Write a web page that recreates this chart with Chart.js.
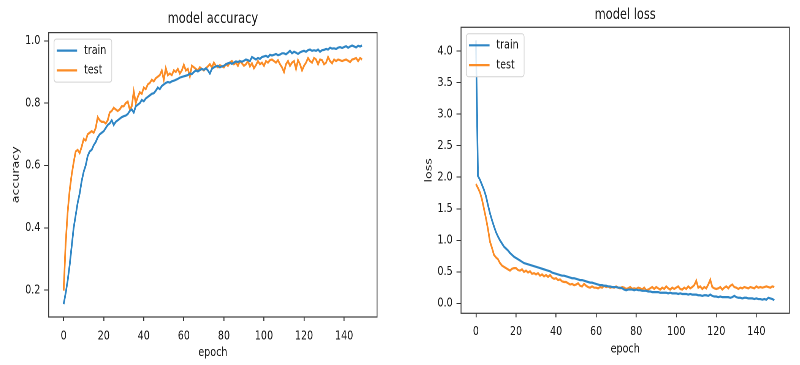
<!DOCTYPE html>
<html>
<head>
<meta charset="utf-8">
<script src="https://cdn.jsdelivr.net/npm/chart.js@4.4.1/dist/chart.umd.min.js"></script>
<style>
  body { margin: 0; background: #fff; width: 800px; height: 365px; overflow: hidden; position: relative; }
  .panel { position: absolute; top: 0; width: 526px; height: 365px; transform: scaleX(0.76); transform-origin: 0 0; }
</style>
</head>
<body>
<div class="panel" style="left:0"><canvas id="acc" width="526" height="365"></canvas></div>
<div class="panel" style="left:400px"><canvas id="loss" width="526" height="365"></canvas></div>
<script>
// values, one per epoch (0..149)
const trainAcc = [
  0.155, 0.19, 0.23, 0.28, 0.34, 0.40, 0.44, 0.48, 0.51, 0.55,
  0.58, 0.60, 0.63, 0.645, 0.65, 0.665, 0.675, 0.69, 0.70, 0.705,
  0.71, 0.72, 0.73, 0.735, 0.745, 0.73, 0.74, 0.745, 0.75, 0.755,
  0.758, 0.76, 0.765, 0.775, 0.78, 0.77, 0.79, 0.795, 0.80, 0.81,
  0.806, 0.815, 0.82, 0.825, 0.83, 0.832, 0.84, 0.85, 0.845, 0.855,
  0.86, 0.865, 0.868, 0.866, 0.87, 0.872, 0.875, 0.878, 0.882, 0.884,
  0.886, 0.888, 0.89, 0.895, 0.893, 0.90, 0.905, 0.902, 0.906, 0.91,
  0.907, 0.912, 0.905, 0.895, 0.91, 0.915, 0.918, 0.92, 0.915, 0.918,
  0.92, 0.925, 0.928, 0.93, 0.926, 0.93, 0.934, 0.932, 0.935, 0.933,
  0.936, 0.94, 0.938, 0.935, 0.948, 0.944, 0.94, 0.945, 0.942, 0.948,
  0.95, 0.952, 0.948, 0.955, 0.953, 0.955, 0.958, 0.954, 0.956, 0.96,
  0.96, 0.957, 0.962, 0.968, 0.96, 0.965, 0.962, 0.958, 0.963, 0.966,
  0.968, 0.965, 0.97, 0.972, 0.968, 0.97, 0.968, 0.972, 0.965, 0.97,
  0.971, 0.974, 0.972, 0.978, 0.975, 0.976, 0.974, 0.978, 0.98, 0.977,
  0.98, 0.983, 0.978, 0.982, 0.985, 0.982, 0.979, 0.984, 0.982, 0.985
];
const testAcc = [
  0.198, 0.35, 0.45, 0.52, 0.57, 0.61, 0.645, 0.65, 0.64, 0.66,
  0.685, 0.68, 0.70, 0.705, 0.71, 0.705, 0.72, 0.755, 0.745, 0.74,
  0.74, 0.735, 0.745, 0.77, 0.775, 0.785, 0.78, 0.775, 0.78, 0.79,
  0.79, 0.80, 0.805, 0.78, 0.79, 0.838, 0.80, 0.82, 0.835, 0.83,
  0.85, 0.845, 0.86, 0.865, 0.875, 0.87, 0.88, 0.885, 0.89, 0.905,
  0.875, 0.912, 0.89, 0.895, 0.89, 0.905, 0.90, 0.91, 0.895, 0.905,
  0.923, 0.905, 0.91, 0.886, 0.92, 0.915, 0.91, 0.905, 0.915, 0.91,
  0.905, 0.912, 0.918, 0.925, 0.915, 0.93, 0.92, 0.915, 0.922, 0.918,
  0.915, 0.925, 0.92, 0.93, 0.935, 0.925, 0.93, 0.92, 0.935, 0.928,
  0.92, 0.925, 0.935, 0.918, 0.928, 0.912, 0.922, 0.935, 0.925, 0.93,
  0.92, 0.935, 0.93, 0.938, 0.94, 0.935, 0.93, 0.938, 0.925, 0.915,
  0.90, 0.925, 0.935, 0.92, 0.93, 0.935, 0.91, 0.938, 0.925, 0.905,
  0.92, 0.93, 0.945, 0.935, 0.93, 0.945, 0.94, 0.925, 0.94, 0.938,
  0.925, 0.93, 0.948, 0.935, 0.928, 0.94, 0.935, 0.94, 0.938, 0.935,
  0.938, 0.94, 0.936, 0.932, 0.94, 0.942, 0.945, 0.935, 0.945, 0.94
];
const trainLoss = [
  4.17, 2.02, 1.96, 1.88, 1.80, 1.70, 1.56, 1.43, 1.32, 1.22,
  1.13, 1.06, 1.00, 0.95, 0.90, 0.87, 0.84, 0.80, 0.77, 0.74,
  0.72, 0.70, 0.68, 0.66, 0.64, 0.63, 0.62, 0.61, 0.60, 0.59,
  0.58, 0.57, 0.56, 0.55, 0.54, 0.53, 0.52, 0.51, 0.49, 0.48,
  0.47, 0.46, 0.45, 0.44, 0.44, 0.43, 0.42, 0.41, 0.40, 0.40,
  0.39, 0.38, 0.37, 0.37, 0.36, 0.35, 0.34, 0.33, 0.33, 0.32,
  0.31, 0.30, 0.29, 0.29, 0.28, 0.28, 0.27, 0.27, 0.26, 0.26,
  0.26, 0.25, 0.25, 0.24, 0.22, 0.21, 0.22, 0.22, 0.22, 0.21,
  0.22, 0.21, 0.21, 0.20, 0.20, 0.20, 0.19, 0.19, 0.18, 0.18,
  0.18, 0.18, 0.17, 0.17, 0.17, 0.17, 0.16, 0.17, 0.16, 0.16,
  0.16, 0.15, 0.16, 0.15, 0.15, 0.15, 0.14, 0.15, 0.14, 0.14,
  0.14, 0.13, 0.13, 0.12, 0.13, 0.13, 0.12, 0.14, 0.12, 0.11,
  0.11, 0.10, 0.11, 0.10, 0.10, 0.10, 0.10, 0.09, 0.10, 0.12,
  0.10, 0.09, 0.09, 0.08, 0.09, 0.09, 0.08, 0.08, 0.08, 0.07,
  0.08, 0.07, 0.07, 0.06, 0.07, 0.06, 0.09, 0.08, 0.07, 0.05
];
const testLoss = [
  1.89, 1.83, 1.76, 1.65, 1.50, 1.35, 1.18, 0.98, 0.88, 0.77,
  0.73, 0.70, 0.64, 0.60, 0.58, 0.56, 0.54, 0.52, 0.55, 0.56,
  0.56, 0.53, 0.52, 0.54, 0.50, 0.52, 0.49, 0.51, 0.47, 0.48,
  0.46, 0.48, 0.44, 0.46, 0.43, 0.45, 0.42, 0.45, 0.41, 0.39,
  0.40, 0.37, 0.38, 0.35, 0.34, 0.34, 0.32, 0.30, 0.31, 0.29,
  0.30, 0.32, 0.28, 0.27, 0.31, 0.28, 0.26, 0.25, 0.27, 0.25,
  0.25, 0.24, 0.26, 0.25, 0.28, 0.26, 0.27, 0.25, 0.26, 0.25,
  0.27, 0.25, 0.24, 0.26, 0.25, 0.23, 0.24, 0.26, 0.23, 0.24,
  0.23, 0.25, 0.24, 0.22, 0.25, 0.21, 0.22, 0.24, 0.26, 0.23,
  0.26, 0.24, 0.22, 0.25, 0.23, 0.27, 0.24, 0.22, 0.25, 0.23,
  0.25, 0.27, 0.23, 0.22, 0.25, 0.23, 0.27, 0.24, 0.26, 0.29,
  0.36, 0.25, 0.27, 0.23, 0.26, 0.24, 0.30, 0.375, 0.26, 0.24,
  0.23, 0.24, 0.26, 0.22, 0.25, 0.27, 0.24, 0.28, 0.30, 0.26,
  0.25, 0.23, 0.25, 0.24, 0.26, 0.25, 0.24, 0.26, 0.25, 0.24,
  0.27, 0.25, 0.26, 0.25, 0.26, 0.27, 0.26, 0.25, 0.27, 0.26
];

const epochTicks = [0, 20, 40, 60, 80, 100, 120, 140];
const accTicks = [0.2, 0.4, 0.6, 0.8, 1.0];
const lossTicks = [0.0, 0.5, 1.0, 1.5, 2.0, 2.5, 3.0, 3.5, 4.0];

const BLUE = '#2f86c5';
const ORANGE = '#fb8c26';
const FONT = '"DejaVu Sans", sans-serif';
const INK = '#1a1a1a';

// matplotlib style 5% margins
function padded(arrs) {
  let lo = Infinity, hi = -Infinity;
  arrs.forEach(a => a.forEach(v => { lo = Math.min(lo, v); hi = Math.max(hi, v); }));
  const m = (hi - lo) * 0.05;
  return [lo - m, hi + m];
}

// frame round the plot and the legend inside it
const frameLegend = {
  id: 'frameLegend',
  afterDatasetsDraw(chart) {
    const { ctx, chartArea: a } = chart;
    ctx.save();
    ctx.strokeStyle = '#3c3c3c';
    ctx.lineWidth = 1.2;
    ctx.strokeRect(a.left, a.top, a.right - a.left, a.bottom - a.top);

    const x0 = a.left + 7, y0 = a.top + 6.5;
    ctx.beginPath();
    ctx.roundRect(x0, y0, 76, 43, 3);
    ctx.fillStyle = 'rgba(255,255,255,0.85)';
    ctx.fill();
    ctx.strokeStyle = '#d3d3d3';
    ctx.lineWidth = 1;
    ctx.stroke();
    chart.data.datasets.forEach((ds, i) => {
      const y = y0 + 11.5 + i * 19.8;
      ctx.strokeStyle = ds.borderColor;
      ctx.lineWidth = 2.2;
      ctx.beginPath();
      ctx.moveTo(x0 + 3.5, y);
      ctx.lineTo(x0 + 30.5, y);
      ctx.stroke();
      ctx.fillStyle = INK;
      ctx.font = '12.6px ' + FONT;
      ctx.textBaseline = 'middle';
      ctx.fillText(ds.label, x0 + 39.5, y);
    });
    ctx.restore();
  }
};

function makePanel(id, title, yLabel, train, test, yTicks, g) {
  const [xMin, xMax] = padded([train.map((v, i) => i)]);
  const [yMin, yMax] = padded([train, test]);
  const pts = arr => arr.map((v, i) => ({ x: i, y: v }));
  new Chart(document.getElementById(id), {
    type: 'line',
    data: {
      datasets: [
        { label: 'train', data: pts(train), borderColor: BLUE, borderWidth: 2.2, pointRadius: 0, tension: 0 },
        { label: 'test', data: pts(test), borderColor: ORANGE, borderWidth: 2.2, pointRadius: 0, tension: 0 }
      ]
    },
    plugins: [frameLegend],
    options: {
      responsive: false,
      animation: false,
      devicePixelRatio: 2,
      layout: { padding: { left: 0, right: g.rightPad, top: 0, bottom: 0 } },
      plugins: {
        legend: { display: false },
        tooltip: { enabled: false },
        title: {
          display: true, text: title, fullSize: false, color: INK,
          font: { family: FONT, size: 15, weight: 'normal' },
          padding: g.titlePad
        }
      },
      scales: {
        x: {
          type: 'linear', min: xMin, max: xMax,
          afterBuildTicks: s => { s.ticks = epochTicks.map(v => ({ value: v })); },
          afterFit: s => { s.height = g.xAxisH; },
          grid: { drawOnChartArea: false, drawTicks: true, tickLength: 4, tickColor: '#333', lineWidth: 1.3 },
          border: { display: false },
          ticks: { autoSkip: false, maxRotation: 0, padding: g.xTickPad, color: INK, font: { family: FONT, size: 12.6 } },
          title: { display: true, text: 'epoch', color: INK, font: { family: FONT, size: 12.6 }, padding: { top: 0, bottom: g.xTitlePad } }
        },
        y: {
          type: 'linear', min: yMin, max: yMax,
          afterBuildTicks: s => { s.ticks = yTicks.map(v => ({ value: v })); },
          afterFit: s => { s.width = g.yAxisW; },
          grid: { drawOnChartArea: false, drawTicks: true, tickLength: 6, tickColor: '#333', lineWidth: 1 },
          border: { display: false },
          ticks: { padding: 5, color: INK, font: { family: FONT, size: 12.6 }, callback: v => v.toFixed(1) },
          title: { display: true, text: yLabel, color: INK, font: { family: FONT, size: 12.6 }, padding: { top: g.yTitlePad, bottom: 0 } }
        }
      }
    }
  });
}

makePanel('acc', 'model accuracy', 'accuracy', trainAcc, testAcc, accTicks, {
  rightPad: 29.9, yAxisW: 64.1, xAxisH: 48, titlePad: { top: 10.3, bottom: 4.3 },
  yTitlePad: 13.8, xTitlePad: 4.6, xTickPad: 7.5
});
makePanel('loss', 'model loss', 'loss', trainLoss, testLoss, lossTicks, {
  rightPad: 13.8, yAxisW: 80.3, xAxisH: 51.7, titlePad: { top: 6.3, bottom: 3 },
  yTitlePad: 30.6, xTitlePad: 8.2, xTickPad: 7
});
</script>
</body>
</html>
